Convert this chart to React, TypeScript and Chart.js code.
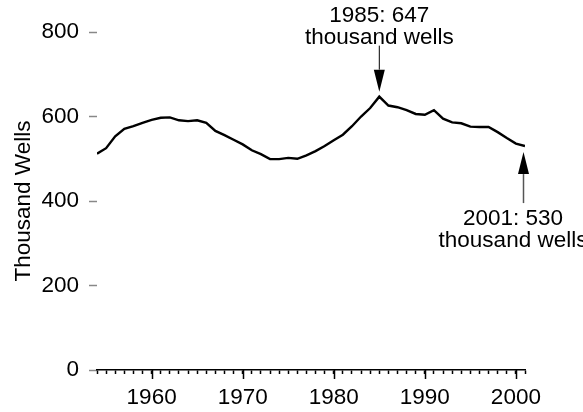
import React, { useEffect, useRef } from "react";
import { Chart, registerables } from "chart.js";

Chart.register(...registerables);

const years: number[] = [
  1954, 1955, 1956, 1957, 1958, 1959, 1960, 1961, 1962, 1963,
  1964, 1965, 1966, 1967, 1968, 1969, 1970, 1971, 1972, 1973,
  1974, 1975, 1976, 1977, 1978, 1979, 1980, 1981, 1982, 1983,
  1984, 1985, 1986, 1987, 1988, 1989, 1990, 1991, 1992, 1993,
  1994, 1995, 1996, 1997, 1998, 1999, 2000, 2001,
];

const wells: number[] = [
  512, 525, 553, 571, 577, 585, 592, 597, 598, 591,
  589, 591, 585, 566, 556, 545, 534, 520, 511, 499,
  499, 502, 500, 508, 518, 530, 544, 557, 577, 600,
  620, 647, 626, 622, 615, 606, 604, 615, 595, 586,
  584, 576, 575, 575, 563, 549, 536, 530,
];

const yTicks: number[] = [0, 200, 400, 600, 800];
const xLabelYears: number[] = [1960, 1970, 1980, 1990, 2000];

const annotations = [
  { year: 1985, value: 647, lines: ["1985: 647", "thousand wells"], dir: "down", textDx: 0 },
  { year: 2001, value: 530, lines: ["2001: 530", "thousand wells"], dir: "up", textDx: -12 },
];

const FONT = "'Liberation Sans', Arial, sans-serif";
const FONT_SIZE = 22.5;

const decoPlugin = {
  id: "deco",
  afterDraw(chart: any) {
    const ctx = chart.ctx;
    const xs = chart.scales.x;
    const ys = chart.scales.y;
    const bottom = chart.chartArea.bottom;
    ctx.save();
    // major decade ticks
    ctx.strokeStyle = "#000";
    ctx.lineWidth = 1.5;
    xLabelYears.forEach((yr) => {
      const px = Math.round(xs.getPixelForValue(yr)) + 0.5;
      ctx.beginPath();
      ctx.moveTo(px, bottom);
      ctx.lineTo(px, bottom + 9);
      ctx.stroke();
    });
    // annotations
    ctx.font = `${FONT_SIZE}px ${FONT}`;
    ctx.textAlign = "center";
    ctx.textBaseline = "middle";
    ctx.fillStyle = "#000";
    annotations.forEach((a) => {
      const px = xs.getPixelForValue(a.year);
      const py = ys.getPixelForValue(a.value);
      const headLen = 22;
      const headW = 11;
      if (a.dir === "down") {
        const tip = py - 5;
        ctx.strokeStyle = "#000";
        ctx.lineWidth = 1;
        ctx.beginPath();
        ctx.moveTo(px, tip - headLen);
        ctx.lineTo(px, tip - 46);
        ctx.stroke();
        ctx.beginPath();
        ctx.moveTo(px, tip);
        ctx.lineTo(px - headW / 2, tip - headLen);
        ctx.lineTo(px + headW / 2, tip - headLen);
        ctx.closePath();
        ctx.fill();
        ctx.fillText(a.lines[0], px + a.textDx, tip - 76);
        ctx.fillText(a.lines[1], px + a.textDx, tip - 54);
      } else {
        const tip = py + 6;
        const ax = px - 1.5;
        ctx.strokeStyle = "#555";
        ctx.lineWidth = 1.5;
        ctx.beginPath();
        ctx.moveTo(ax, tip + headLen);
        ctx.lineTo(ax, tip + 51);
        ctx.stroke();
        ctx.beginPath();
        ctx.moveTo(ax, tip);
        ctx.lineTo(ax - headW / 2, tip + headLen);
        ctx.lineTo(ax + headW / 2, tip + headLen);
        ctx.closePath();
        ctx.fill();
        ctx.fillText(a.lines[0], px + a.textDx, tip + 67);
        ctx.fillText(a.lines[1], px + a.textDx, tip + 89);
      }
    });
    ctx.restore();
  },
};

export default function App() {
  const ref = useRef<HTMLCanvasElement | null>(null);
  useEffect(() => {
    document.body.style.margin = "0";
    if (!ref.current) return;
    Chart.defaults.font.family = FONT;
    Chart.defaults.font.size = FONT_SIZE;
    Chart.defaults.color = "#000";
    const chart = new Chart(ref.current, {
      type: "line",
      data: {
        datasets: [
          {
            data: years.map((y, i) => ({ x: y, y: wells[i] })),
            borderColor: "#000",
            borderWidth: 2.4,
            pointRadius: 0,
            tension: 0,
            fill: false,
          },
        ],
      },
      options: {
        responsive: false,
        animation: false,
        devicePixelRatio: 1,
        layout: { padding: { top: 32, right: 58, bottom: 0, left: 10 } },
        plugins: { legend: { display: false }, tooltip: { enabled: false } },
        scales: {
          x: {
            type: "linear",
            min: years[0],
            max: years[years.length - 1],
            afterFit(scale: any) {
              scale.height = 42;
            },
            grid: {
              drawOnChartArea: false,
              drawTicks: true,
              tickLength: 4,
              tickColor: "#000",
              tickWidth: 1.5,
            },
            border: { display: true, color: "#000", width: 1.5 },
            ticks: {
              stepSize: 1,
              autoSkip: false,
              maxRotation: 0,
              padding: 10,
              color: "#000",
              callback: (v: any) => (xLabelYears.includes(Number(v)) ? String(v) : ""),
            },
          },
          y: {
            type: "linear",
            min: yTicks[0],
            max: yTicks[yTicks.length - 1],
            afterFit(scale: any) {
              scale.width = 87;
            },
            afterBuildTicks(scale: any) {
              scale.ticks = yTicks.map((v) => ({ value: v }));
            },
            grid: {
              drawOnChartArea: false,
              drawTicks: true,
              tickLength: 8,
              tickColor: "#888",
              tickWidth: 1.5,
            },
            border: { display: false },
            ticks: {
              padding: 10,
              color: "#000",
              callback: (v: any) => String(v),
            },
            title: {
              display: true,
              text: "Thousand Wells",
              color: "#000",
              padding: { top: 0, bottom: 0 },
              font: { size: FONT_SIZE, family: FONT },
            },
          },
        },
      },
      plugins: [decoPlugin],
    });
    return () => chart.destroy();
  }, []);
  return (
    <div style={{ width: 583, height: 412 }}>
      <canvas ref={ref} width={583} height={412} />
    </div>
  );
}
